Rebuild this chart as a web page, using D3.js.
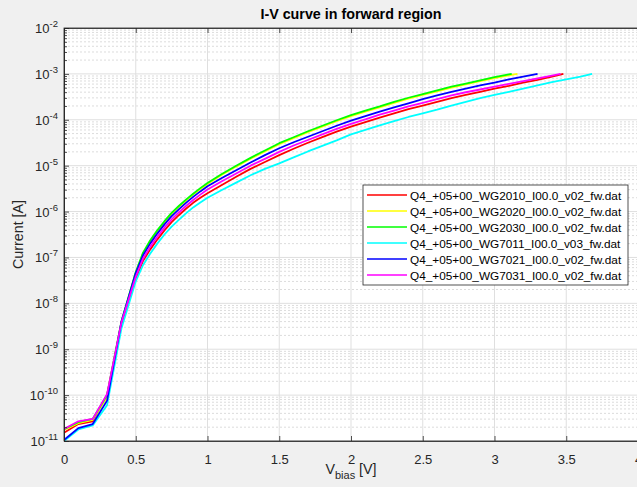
<!DOCTYPE html>
<html>
<head>
<meta charset="utf-8">
<script src="https://cdn.jsdelivr.net/npm/d3@7"></script>
<style>
  body { margin: 0; background: #f0f0f0; }
  svg { display: block; font-family: "Liberation Sans", Arial, sans-serif; }
</style>
</head>
<body>
<div id="viz"></div>
<script>
// bias voltage steps (V); last point of each curve is at its compliance voltage
const vSteps = [0, 0.1, 0.2, 0.3, 0.4, 0.5, 0.55, 0.6, 0.65, 0.7, 0.75, 0.8, 0.85, 0.9, 0.95, 1.0,
                1.1, 1.2, 1.3, 1.4, 1.5, 1.6, 1.7, 1.8, 1.9, 2.0, 2.1, 2.2, 2.3, 2.4, 2.5, 2.6, 2.7, 2.8,
                2.9, 3.0, 3.1, 3.2, 3.3, 3.4, 3.5, 3.6]

const names = ["Q4_+05+00_WG2010_I00.0_v02_fw.dat", "Q4_+05+00_WG2020_I00.0_v02_fw.dat",
               "Q4_+05+00_WG2030_I00.0_v02_fw.dat", "Q4_+05+00_WG7011_I00.0_v03_fw.dat",
               "Q4_+05+00_WG7021_I00.0_v02_fw.dat", "Q4_+05+00_WG7031_I00.0_v02_fw.dat"]
const colors = ["#ff0000", "#ffff00", "#00ff00", "#00ffff", "#0000ff", "#ff00ff"]
const vEnd = [3.48, 3.16, 3.12, 3.68, 3.30, 3.46]

// current (A)
const iWG2010 = [1.51e-11, 2.34e-11, 2.69e-11, 1.0e-10, 3.55e-9, 3.47e-8, 8.32e-8, 1.48e-7, 2.45e-7, 3.89e-7,
                 5.89e-7, 8.32e-7, 1.15e-6, 1.55e-6, 2.0e-6, 2.51e-6,
                 3.80e-6, 5.75e-6, 8.51e-6, 1.20e-5, 1.70e-5, 2.34e-5, 3.16e-5, 4.17e-5, 5.50e-5,
                 7.08e-5, 8.91e-5, 1.12e-4, 1.38e-4, 1.70e-4, 2.04e-4, 2.45e-4, 2.95e-4, 3.47e-4, 4.07e-4,
                 4.79e-4, 5.50e-4, 6.46e-4, 7.41e-4, 8.71e-4, 1.0e-3]
const iWG2020 = [1.74e-11, 2.45e-11, 2.88e-11, 9.0e-11, 3.8e-9, 4.57e-8, 1.20e-7, 2.24e-7, 3.72e-7, 5.89e-7,
                 8.91e-7, 1.26e-6, 1.74e-6, 2.34e-6, 3.09e-6, 3.98e-6,
                 6.31e-6, 9.55e-6, 1.41e-5, 2.04e-5, 2.95e-5, 3.98e-5, 5.37e-5, 7.08e-5, 9.33e-5,
                 1.20e-4, 1.51e-4, 1.86e-4, 2.34e-4, 2.88e-4, 3.47e-4, 4.17e-4, 5.01e-4, 5.89e-4, 6.92e-4,
                 8.13e-4, 9.33e-4, 1.0e-3]
const iWG2030 = [1.82e-11, 2.57e-11, 3.02e-11, 1.0e-10, 3.98e-9, 4.79e-8, 1.26e-7, 2.34e-7, 3.89e-7, 6.17e-7,
                 9.33e-7, 1.32e-6, 1.82e-6, 2.45e-6, 3.24e-6, 4.17e-6,
                 6.61e-6, 1.0e-5, 1.48e-5, 2.14e-5, 3.09e-5, 4.17e-5, 5.62e-5, 7.41e-5, 9.77e-5,
                 1.26e-4, 1.58e-4, 1.95e-4, 2.45e-4, 3.02e-4, 3.63e-4, 4.37e-4, 5.25e-4, 6.17e-4, 7.24e-4,
                 8.51e-4, 9.77e-4, 1.0e-3]
const iWG7011 = [1.0e-11, 1.78e-11, 2.19e-11, 6.03e-11, 2.82e-9, 3.02e-8, 6.76e-8, 1.20e-7, 2.0e-7, 3.16e-7,
                 4.68e-7, 6.61e-7, 9.12e-7, 1.23e-6, 1.58e-6, 2.0e-6,
                 2.95e-6, 4.27e-6, 6.17e-6, 8.51e-6, 1.12e-5, 1.51e-5, 2.04e-5, 2.69e-5, 3.55e-5,
                 4.79e-5, 6.03e-5, 7.59e-5, 9.33e-5, 1.15e-4, 1.38e-4, 1.66e-4, 2.04e-4, 2.45e-4, 2.95e-4,
                 3.47e-4, 4.07e-4, 4.79e-4, 5.62e-4, 6.61e-4, 7.59e-4, 8.71e-4, 1.0e-3]
const iWG7021 = [1.05e-11, 1.91e-11, 2.34e-11, 7.59e-11, 3.98e-9, 4.57e-8, 1.10e-7, 2.0e-7, 3.31e-7, 5.25e-7,
                 7.94e-7, 1.12e-6, 1.55e-6, 2.09e-6, 2.75e-6, 3.55e-6,
                 5.37e-6, 7.94e-6, 1.17e-5, 1.70e-5, 2.40e-5, 3.24e-5, 4.27e-5, 5.62e-5, 7.41e-5,
                 9.55e-5, 1.20e-4, 1.51e-4, 1.86e-4, 2.29e-4, 2.82e-4, 3.39e-4, 4.07e-4, 4.79e-4, 5.62e-4,
                 6.46e-4, 7.59e-4, 8.71e-4, 1.0e-3]
const iWG7031 = [1.82e-11, 2.69e-11, 3.02e-11, 1.05e-10, 3.80e-9, 3.80e-8, 9.33e-8, 1.70e-7, 2.82e-7, 4.47e-7,
                 6.76e-7, 9.55e-7, 1.32e-6, 1.78e-6, 2.34e-6, 3.02e-6,
                 4.57e-6, 6.76e-6, 1.0e-5, 1.41e-5, 2.0e-5, 2.75e-5, 3.63e-5, 4.79e-5, 6.31e-5,
                 8.13e-5, 1.02e-4, 1.29e-4, 1.58e-4, 1.95e-4, 2.34e-4, 2.82e-4, 3.39e-4, 3.98e-4, 4.57e-4,
                 5.25e-4, 6.03e-4, 6.92e-4, 7.94e-4, 9.12e-4, 1.0e-3]

const currents = [iWG2010, iWG2020, iWG2030, iWG7011, iWG7021, iWG7031]

const xTicks = [0, 0.5, 1, 1.5, 2, 2.5, 3, 3.5, 4]
const yExps = [-11, -10, -9, -8, -7, -6, -5, -4, -3, -2]

const width = 637
const height = 487
const plot = {left: 64, right: 638, top: 28, bottom: 441}
const axisColor = "#262626"

const svg = d3.select("#viz").append("svg").attr("width", width).attr("height", height)
svg.append("rect").attr("width", width).attr("height", height).attr("fill", "#f0f0f0")

const xScale = d3.scaleLinear().domain([0, 4]).range([plot.left, plot.right])
const yScale = d3.scaleLog().domain([1e-11, 1e-2]).range([plot.bottom, plot.top])

svg.append("defs").append("clipPath").attr("id", "clip")
    .append("rect").attr("x", plot.left).attr("y", plot.top)
    .attr("width", plot.right - plot.left).attr("height", plot.bottom - plot.top)

svg.append("rect").attr("x", plot.left).attr("y", plot.top)
    .attr("width", plot.right - plot.left).attr("height", plot.bottom - plot.top)
    .attr("fill", "white")

// minor grid (log decades 2..9)
const minorVals = []
yExps.slice(0, -1).forEach(e => { for (let k = 2; k <= 9; k++) minorVals.push(k * Math.pow(10, e)) })

const grid = svg.append("g").attr("clip-path", "url(#clip)")
grid.selectAll(".ymin").data(minorVals).join("line")
    .attr("x1", plot.left).attr("x2", plot.right)
    .attr("y1", d => yScale(d)).attr("y2", d => yScale(d))
    .attr("stroke", "#dcdcdc").attr("stroke-width", 1).attr("stroke-dasharray", "2,2")
grid.selectAll(".ymaj").data(yExps).join("line")
    .attr("x1", plot.left).attr("x2", plot.right)
    .attr("y1", d => yScale(Math.pow(10, d))).attr("y2", d => yScale(Math.pow(10, d)))
    .attr("stroke", "#dfdfdf").attr("stroke-width", 1)
grid.selectAll(".xmaj").data(xTicks).join("line")
    .attr("x1", d => xScale(d)).attr("x2", d => xScale(d))
    .attr("y1", plot.top).attr("y2", plot.bottom)
    .attr("stroke", "#dfdfdf").attr("stroke-width", 1)

// curves
const line = d3.line().x(d => xScale(d[0])).y(d => yScale(d[1]))
const series = currents.map((arr, s) => arr.map((c, i) => [i < arr.length - 1 ? vSteps[i] : vEnd[s], c]))

svg.append("g").attr("clip-path", "url(#clip)")
    .selectAll("path").data(series).join("path")
    .attr("d", line)
    .attr("fill", "none")
    .attr("stroke", (d, i) => colors[i])
    .attr("stroke-width", 1.8)
    .attr("stroke-linejoin", "round")

// axes
const xAxis = d3.axisBottom(xScale).tickValues(xTicks).tickSize(-5).tickPadding(14)
    .tickFormat(d3.format("~g"))
const gx = svg.append("g").attr("transform", `translate(0,${plot.bottom})`).call(xAxis)
const xAxisTop = d3.axisTop(xScale).tickValues(xTicks).tickSize(-5).tickFormat("")
const gxt = svg.append("g").attr("transform", `translate(0,${plot.top})`).call(xAxisTop)

const yAxis = d3.axisLeft(yScale).tickValues(yExps.map(e => Math.pow(10, e))).tickSize(-5)
    .tickFormat("")
const gy = svg.append("g").attr("transform", `translate(${plot.left},0)`).call(yAxis)
const yMinorAxis = d3.axisLeft(yScale).tickValues(minorVals).tickSize(-3).tickFormat("")
const gym = svg.append("g").attr("transform", `translate(${plot.left},0)`).call(yMinorAxis)

;[gx, gxt, gy, gym].forEach(g => {
    g.select(".domain").attr("stroke", axisColor).attr("stroke-width", 0.8)
    g.selectAll(".tick line").attr("stroke", axisColor).attr("stroke-width", 0.8)
    g.selectAll(".tick text").attr("fill", axisColor).attr("font-size", 13)
        .attr("font-family", "Liberation Sans, Arial, sans-serif")
})

// y tick labels as 10^n
const yLabels = svg.append("g")
yExps.forEach(e => {
    const t = yLabels.append("text")
        .attr("x", plot.left - 6).attr("y", yScale(Math.pow(10, e)) + 5)
        .attr("text-anchor", "end").attr("fill", axisColor).attr("font-size", 13)
    t.append("tspan").text("10")
    t.append("tspan").attr("dy", -6).attr("font-size", 9.5).text(e)
})

// frame
svg.append("rect").attr("x", plot.left).attr("y", plot.top)
    .attr("width", plot.right - plot.left).attr("height", plot.bottom - plot.top)
    .attr("fill", "none").attr("stroke", axisColor).attr("stroke-width", 0.8)

// title and labels
svg.append("text").attr("x", (plot.left + plot.right) / 2).attr("y", 19)
    .attr("text-anchor", "middle").attr("font-weight", "bold").attr("font-size", 14.3)
    .attr("fill", "#000").text("I-V curve in forward region")

const xl = svg.append("text").attr("x", (plot.left + plot.right) / 2).attr("y", 474)
    .attr("text-anchor", "middle").attr("font-size", 14.3).attr("fill", axisColor)
xl.append("tspan").text("V")
xl.append("tspan").attr("dy", 5).attr("font-size", 11).text("bias")
xl.append("tspan").attr("dy", -5).text(" [V]")

svg.append("text").attr("transform", `translate(23,${(plot.top + plot.bottom) / 2}) rotate(-90)`)
    .attr("text-anchor", "middle").attr("font-size", 14.3).attr("fill", axisColor)
    .text("Current [A]")

// legend
const legend = svg.append("g").attr("transform", "translate(363,185)")
legend.append("rect").attr("width", 265).attr("height", 100)
    .attr("fill", "white").attr("stroke", axisColor).attr("stroke-width", 0.8)
const rows = legend.selectAll(".row").data(names).join("g")
    .attr("transform", (d, i) => `translate(0,${10 + i * 16})`)
rows.append("line").attr("x1", 4).attr("x2", 44).attr("y1", 0).attr("y2", 0)
    .attr("stroke", (d, i) => colors[i]).attr("stroke-width", 1.5)
rows.append("text").attr("x", 47).attr("y", 4.5).attr("font-size", 11.8).attr("fill", "#000").text(d => d)
</script>
</body>
</html>
